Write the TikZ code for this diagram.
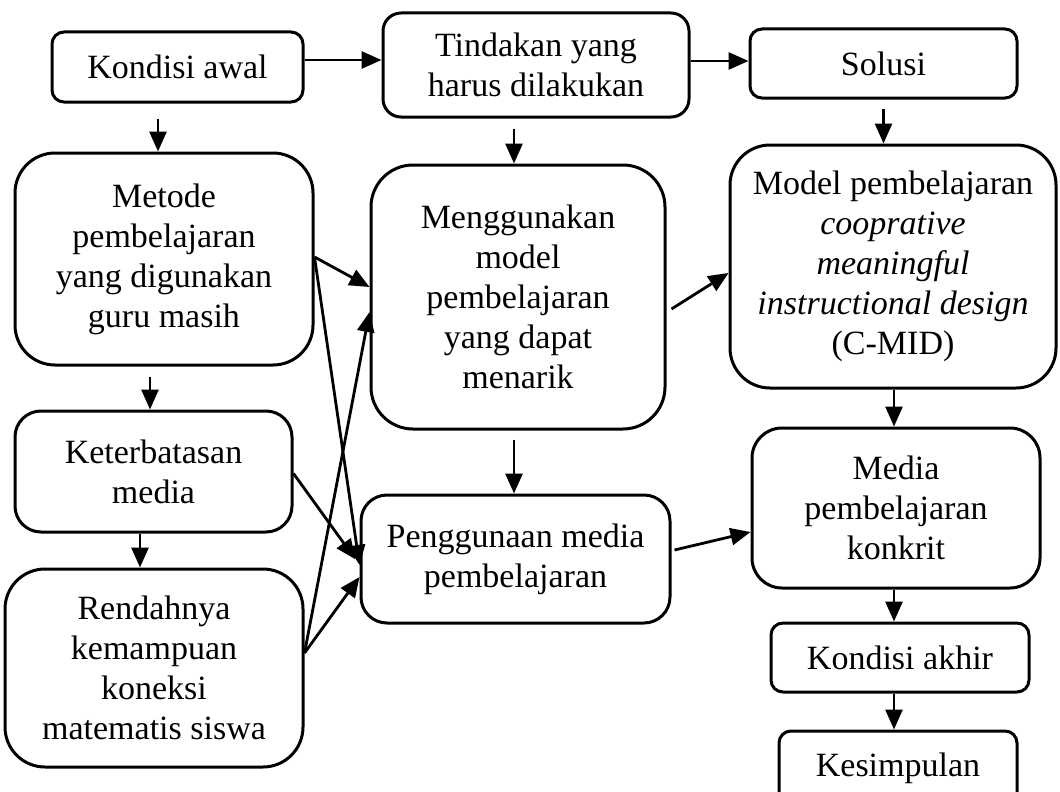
\documentclass[tikz,border=0pt]{standalone}
\usepackage{fontspec}
\setmainfont{Liberation Serif}
\usetikzlibrary{arrows.meta}

\tikzset{
  box/.style={draw, line width=3pt, rounded corners=#1, align=center, inner sep=0pt,
    font=\fontsize{34}{40}\selectfont},
  box/.default=14pt,
  arr/.style={line width=2.8pt, -{Triangle[length=20pt,width=17pt]}},
}

\begin{document}
\begin{tikzpicture}[x=1pt,y=-1pt]
  \path[use as bounding box, fill=white] (0,0) rectangle (1060,792);
  \clip (0,0) rectangle (1060,792);
  \node[box=12pt, minimum width=251pt, minimum height=70pt] (kawal) at (177.5,67) {Kondisi awal};
  \node[box=18pt, minimum width=306pt, minimum height=104pt] (tindakan) at (536,65) {Tindakan yang\\harus dilakukan};
  \node[box=12pt, minimum width=267pt, minimum height=69pt] (solusi) at (883.5,63.5) {Solusi};
  \node[box=40pt, minimum width=298pt, minimum height=212pt] (metode) at (164,259) {Metode\\pembelajaran\\yang digunakan\\guru masih};
  \node[box=42pt, minimum width=294pt, minimum height=264pt] (menggunakan) at (518,297) {Menggunakan\\model\\pembelajaran\\yang dapat\\menarik};
  \node[box=40pt, minimum width=326pt, minimum height=243pt] (cmid) at (893,266.5) {Model pembelajaran\\\textit{cooprative}\\\textit{meaningful}\\\textit{instructional design}\\(C-MID)};
  \node[box=26pt, minimum width=277pt, minimum height=121pt] (keter) at (153.5,471.5) {Keterbatasan\\media};
  \node[box=26pt, minimum width=309pt, minimum height=128pt] (penggunaan) at (515.5,559) {Penggunaan media\\pembelajaran};
  \node[box=30pt, minimum width=288pt, minimum height=160pt] (media) at (896,508) {Media\\pembelajaran\\konkrit};
  \node[box=40pt, minimum width=298pt, minimum height=198pt] (rendah) at (154,668) {Rendahnya\\kemampuan\\koneksi\\matematis siswa};
  \node[box=12pt, minimum width=258pt, minimum height=69pt] (kakhir) at (900,657.5) {Kondisi akhir};
  \node[box=12pt, minimum width=238pt, minimum height=84pt, text depth=16pt] (kesimpulan) at (898,773) {Kesimpulan};

  \draw[arr] ([yshift=7pt]kawal.east) -- ([yshift=7pt]kawal.east -| tindakan.west);
  \draw[arr] ([yshift=4pt]tindakan.east) -- ([yshift=4pt]tindakan.east -| solusi.west);
  \draw[arr] ([xshift=-19.5pt,yshift=-15pt]kawal.south) -- ([xshift=-19.5pt]kawal.south |- metode.north);
  \draw[arr] ([xshift=-22pt,yshift=-10pt]tindakan.south) -- ([xshift=-22pt]tindakan.south |- menggunakan.north);
  \draw[arr] ([yshift=-9pt]solusi.south) -- (solusi.south |- cmid.north);
  \draw[arr] ([xshift=-14pt,yshift=-10pt]metode.south) -- ([xshift=-14pt]metode.south |- keter.north);
  \draw[arr] ([xshift=-13.5pt]keter.south) -- ([xshift=-13.5pt]keter.south |- rendah.north);
  \draw[arr] ([xshift=-4pt,yshift=-9pt]menggunakan.south) -- ([xshift=-4pt]menggunakan.south |- penggunaan.north);
  \draw[arr] ([xshift=1pt]cmid.south) -- ([xshift=1pt]cmid.south |- media.north);
  \draw[arr] ([xshift=-2pt]media.south) -- ([xshift=-2pt]media.south |- kakhir.north);
  \draw[arr] ([xshift=-6pt]kakhir.south) -- ([xshift=-6pt]kakhir.south |- kesimpulan.north);

  \draw[arr] ([yshift=2pt]metode.east) -- ([yshift=10pt]menggunakan.west);
  \draw[arr] ([yshift=2pt]metode.east) -- ([yshift=-6pt]penggunaan.west);
  \draw[arr, shorten >=7pt] ([yshift=-2pt]keter.east) -- ([yshift=-6pt]penggunaan.west);
  \draw[arr] ([yshift=15pt]rendah.east) -- ([yshift=-15pt]menggunakan.west);
  \draw[arr] ([yshift=15pt]rendah.east) -- ([yshift=-18pt]penggunaan.west);
  \draw[arr] ([xshift=5pt,yshift=-12pt]menggunakan.east) -- ([yshift=-6.5pt]cmid.west);
  \draw[arr] ([xshift=3pt,yshift=9pt]penggunaan.east) -- ([yshift=-24pt]media.west);
\end{tikzpicture}
\end{document}
